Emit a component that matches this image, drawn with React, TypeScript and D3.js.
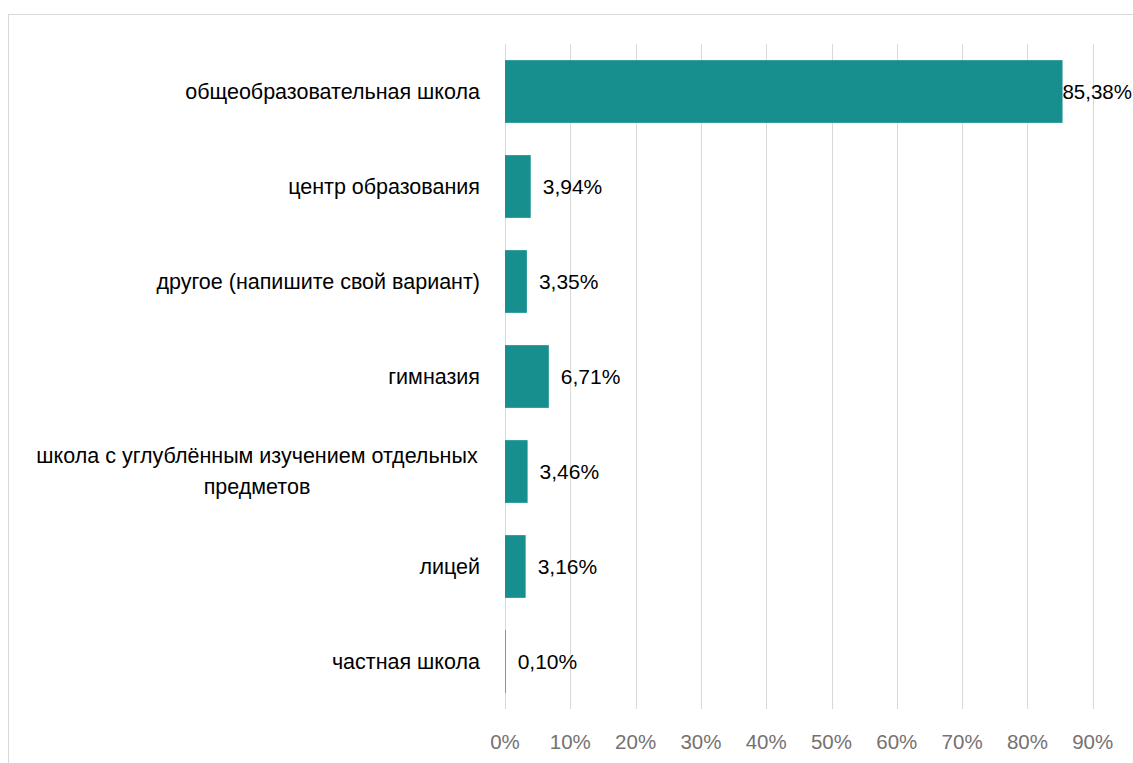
import React from "react";
import * as d3 from "d3";

const categories: string[][] = [
  ["общеобразовательная школа"],
  ["центр образования"],
  ["другое (напишите свой вариант)"],
  ["гимназия"],
  ["школа с углублённым изучением отдельных", "предметов"],
  ["лицей"],
  ["частная школа"],
];
const values: number[] = [85.38, 3.94, 3.35, 6.71, 3.46, 3.16, 0.1];
const ticks: number[] = [0, 10, 20, 30, 40, 50, 60, 70, 80, 90];

const W = 1133;
const H = 763;
const FONT = "'Liberation Sans', Arial, sans-serif";

export default function App() {
  const x = d3.scaleLinear().domain([0, 100]).range([505, 1158]);
  const keys = categories.map((_, i) => String(i));
  const y = d3.scaleBand().domain(keys).range([44, 709]).paddingInner(0.34).paddingOuter(0.17);
  const fmt = (v: number) => v.toFixed(2).replace(".", ",") + "%";

  return (
    <svg width={W} height={H} style={{ position: "absolute", left: 0, top: 0, background: "#fff" }} fontFamily={FONT}>
      <rect x={8.5} y={14.5} width={1300} height={900} fill="#fff" stroke="#d9d9d9" strokeWidth={1} />
      {ticks.map((t) => (
        <g key={t}>
          <line x1={Math.round(x(t)) + 0.5} x2={Math.round(x(t)) + 0.5} y1={44} y2={709} stroke="#d9d9d9" strokeWidth={1} />
          <text x={x(t)} y={741} textAnchor="middle" dominantBaseline="central" fontSize={20.5} fill="#767171">
            {t}%
          </text>
        </g>
      ))}
      {values.map((v, i) => {
        const yy = y(keys[i])!;
        const bw = y.bandwidth();
        const cy = yy + bw / 2;
        const end = x(v);
        const lx = end + 12;
        const overflow = lx + 70 > W;
        return (
          <g key={i}>
            <rect x={x(0)} y={yy} width={end - x(0)} height={bw} fill="#178f8f" />
            <text
              x={overflow ? W - 1 : lx}
              y={cy}
              textAnchor={overflow ? "end" : "start"}
              dominantBaseline="central"
              fontSize={overflow ? 20.5 : 21}
              fill="#000"
            >
              {fmt(v)}
            </text>
          </g>
        );
      })}
      {categories.map((lines, i) => {
        const cy = y(keys[i])! + y.bandwidth() / 2;
        const lh = 31;
        const off = ((lines.length - 1) * lh) / 2;
        const multi = lines.length > 1;
        return (
          <text key={i} fontSize={21.5} fill="#000" dominantBaseline="central">
            {lines.map((l, j) => (
              <tspan
                key={j}
                x={multi ? 257 : 480}
                y={cy - off + j * lh}
                textAnchor={multi ? "middle" : "end"}
              >
                {l}
              </tspan>
            ))}
          </text>
        );
      })}
    </svg>
  );
}
